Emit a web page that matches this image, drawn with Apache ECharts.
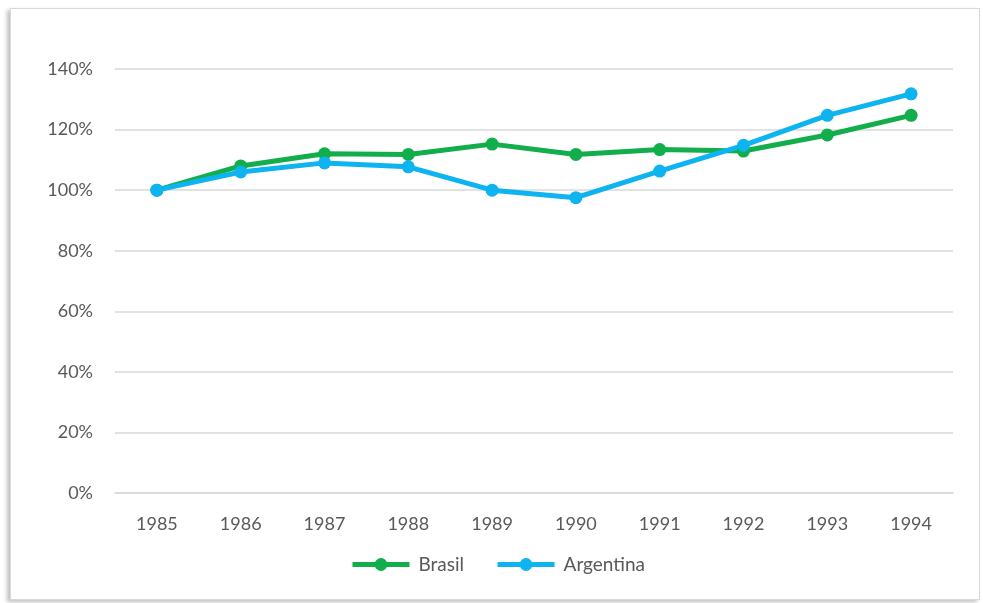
<!DOCTYPE html>
<html><head><meta charset="utf-8">
<script src="https://cdn.jsdelivr.net/npm/echarts@6/dist/echarts.min.js"></script>
<style>
html,body{margin:0;padding:0;background:#fff;}
#frame{position:absolute;left:10px;top:8px;width:968px;height:590px;border:1px solid #d9d9d9;box-shadow:-3px 2px 4px rgba(0,0,0,0.25);background:#fff;}
#main{position:absolute;left:0;top:0;width:983px;height:603px;}
</style></head>
<body>
<div id="frame"></div>
<div id="main"></div>
<script>
const years = ['1985','1986','1987','1988','1989','1990','1991','1992','1993','1994'];
const brasil = [1.00,1.08,1.12,1.118,1.152,1.118,1.134,1.129,1.182,1.247];
const argentina = [1.00,1.06,1.09,1.077,1.00,0.975,1.063,1.148,1.247,1.318];

const chart = echarts.init(document.getElementById('main'));
const lbl = {color:'#595959', fontFamily:'Lato', fontSize:18};
chart.setOption({
  animation:false,
  grid:{left:115,right:30,top:69,bottom:110,containLabel:false},
  legend:{top:555,left:350,padding:0,itemWidth:57,itemHeight:16,itemGap:31,
    lineStyle:{width:5},
    textStyle:{color:'#595959',fontFamily:'Lato',fontSize:19,padding:[0,0,0,4]},
    data:['Brasil','Argentina']},
  xAxis:{type:'category',data:years,boundaryGap:true,
    axisLine:{lineStyle:{color:'#d9d9d9',width:1.5}},axisTick:{show:false},
    axisLabel:Object.assign({margin:22},lbl)},
  yAxis:{type:'value',min:0,max:1.4,interval:0.2,
    axisLine:{show:false},axisTick:{show:false},
    splitLine:{lineStyle:{color:'#d9d9d9',width:1.5}},
    axisLabel:Object.assign({margin:22,formatter:v=>Math.round(v*100)+'%'},lbl)},
  series:[
    {name:'Brasil',type:'line',data:brasil,color:'#12AE4B',symbol:'circle',symbolSize:13,
      lineStyle:{width:5},itemStyle:{color:'#12AE4B'}},
    {name:'Argentina',type:'line',data:argentina,color:'#0DB4F0',symbol:'circle',symbolSize:13,
      lineStyle:{width:5},itemStyle:{color:'#0DB4F0'}}
  ]
});
</script>
</body></html>
